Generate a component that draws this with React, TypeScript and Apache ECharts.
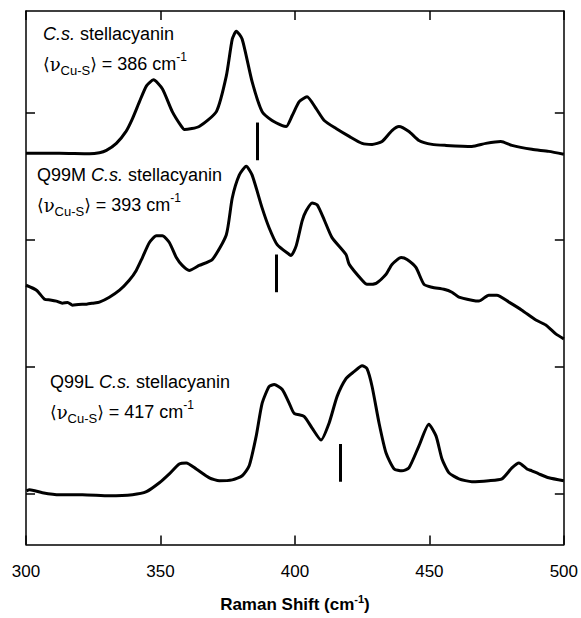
import React, { useEffect, useRef } from 'react';
import * as echarts from 'echarts';

// ---- Data ----
// C.s. stellacyanin (top trace)
const csShift = [300, 312.4, 323.6, 327.3, 329.9, 333.6, 337.2, 339.6, 342.2, 344.8, 347.4, 350.7, 354.4, 357.8, 358.9, 364.4, 370.8, 374.5, 376.7, 378.2, 380.4, 384.1, 387.8, 391.5, 395.3, 396.8, 399.0, 401.6, 404.5, 407.9, 410.9, 415.3, 420.2, 425.0, 428.7, 432.4, 436.1, 438.7, 442.4, 446.1, 451.0, 456.2, 465.8, 471.0, 476.6, 480.7, 488.1, 494.4, 500];
const csIntensity = [2.68, 2.68, 2.676, 2.684, 2.703, 2.758, 2.852, 2.953, 3.086, 3.211, 3.258, 3.188, 3.008, 2.891, 2.867, 2.891, 3.008, 3.289, 3.578, 3.641, 3.578, 3.242, 3.008, 2.938, 2.898, 2.891, 2.977, 3.086, 3.125, 3.031, 2.938, 2.875, 2.813, 2.758, 2.75, 2.773, 2.859, 2.891, 2.852, 2.781, 2.75, 2.742, 2.734, 2.758, 2.773, 2.742, 2.711, 2.695, 2.672];

// Q99M C.s. stellacyanin (middle trace)
const q99mShift = [300, 303.9, 306.9, 309.0, 311.3, 313.5, 315.5, 317.3, 319.5, 322.5, 325.0, 327.3, 331.0, 334.8, 338.4, 341.0, 343.3, 345.9, 348.5, 350.7, 353.3, 355.9, 358.1, 360.7, 364.4, 369.3, 374.5, 376.7, 379.3, 381.9, 384.1, 387.8, 390.4, 393.4, 397.9, 398.6, 400.5, 402.7, 404.2, 406.4, 408.3, 410.9, 413.8, 419.0, 420.2, 425.0, 426.8, 430.2, 433.9, 436.1, 439.5, 441.7, 445.0, 448.0, 451.0, 455.4, 458.4, 461.0, 465.8, 468.4, 472.1, 475.1, 479.6, 484.4, 489.6, 493.3, 497.0, 500];
const q99mIntensity = [1.641, 1.602, 1.531, 1.525, 1.516, 1.50, 1.505, 1.484, 1.49, 1.492, 1.50, 1.508, 1.547, 1.602, 1.68, 1.758, 1.859, 1.977, 2.031, 2.031, 1.977, 1.859, 1.797, 1.758, 1.797, 1.844, 2.039, 2.328, 2.508, 2.578, 2.508, 2.25, 2.094, 1.961, 1.883, 1.875, 1.953, 2.148, 2.227, 2.289, 2.273, 2.156, 2.016, 1.883, 1.805, 1.68, 1.648, 1.656, 1.727, 1.805, 1.859, 1.844, 1.781, 1.648, 1.625, 1.609, 1.586, 1.547, 1.523, 1.516, 1.563, 1.563, 1.508, 1.445, 1.367, 1.328, 1.258, 1.219];

// Q99L C.s. stellacyanin (bottom trace)
const q99lShift = [300.2, 301.3, 306.1, 312.4, 321.0, 331.0, 339.6, 344.8, 349.6, 353.3, 357.0, 359.6, 363.3, 368.2, 371.9, 376.7, 380.4, 383.0, 385.6, 387.8, 390.4, 392.3, 395.3, 397.9, 399.7, 403.4, 406.4, 409.7, 412.7, 415.7, 419.0, 422.0, 425.0, 426.8, 428.7, 431.3, 433.9, 436.9, 439.8, 442.4, 446.1, 449.8, 452.5, 454.7, 457.3, 461.0, 465.8, 472.1, 477.0, 480.7, 483.3, 486.3, 488.1, 490.7, 494.4, 500];
const q99lIntensity = [0.023, 0.031, 0.008, -0.008, -0.008, -0.016, -0.008, 0.016, 0.086, 0.156, 0.234, 0.242, 0.195, 0.125, 0.102, 0.109, 0.141, 0.219, 0.453, 0.711, 0.844, 0.859, 0.82, 0.711, 0.633, 0.609, 0.516, 0.422, 0.555, 0.766, 0.906, 0.961, 1.008, 0.984, 0.844, 0.555, 0.32, 0.195, 0.18, 0.203, 0.375, 0.547, 0.453, 0.273, 0.164, 0.117, 0.094, 0.102, 0.117, 0.203, 0.242, 0.195, 0.18, 0.156, 0.125, 0.102];

// Average Cu–S frequencies (vertical markers) and their vertical extents
const meanFrequency = [386, 393, 417];
const markerTop = [2.922, 1.883, 0.391];
const markerBottom = [2.625, 1.586, 0.094];

const sampleNames = ['', 'Q99M ', 'Q99L '];
const xTicks = [300, 350, 400, 450, 500];
const yTickValues = [0, 1, 2, 3];

const FONT = "'Liberation Sans', Arial, Helvetica, sans-serif";
const SERIF = "'DejaVu Serif', 'Liberation Serif', serif";

const labelRich = {
  r: { fontFamily: FONT, fontSize: 18, color: '#000', lineHeight: 26 },
  i: { fontFamily: FONT, fontSize: 18, fontStyle: 'italic', color: '#000', lineHeight: 26 },
  br: { fontFamily: "'DejaVu Sans', sans-serif", fontSize: 17, color: '#000', lineHeight: 26 },
  nu: { fontFamily: SERIF, fontSize: 18, color: '#000', lineHeight: 26 },
  sub: { fontFamily: FONT, fontSize: 13, color: '#000', lineHeight: 13, verticalAlign: 'bottom' },
  sup: { fontFamily: FONT, fontSize: 12, color: '#000', lineHeight: 12, verticalAlign: 'top' },
};

function pairs(xs: number[], ys: number[]) {
  return xs.map((x, i) => [x, ys[i]]);
}

export default function App() {
  const ref = useRef<HTMLDivElement>(null);

  useEffect(() => {
    if (!ref.current) return;
    const chart = echarts.init(ref.current, undefined, { renderer: 'svg' });

    const traces = [
      pairs(csShift, csIntensity),
      pairs(q99mShift, q99mIntensity),
      pairs(q99lShift, q99lIntensity),
    ];

    const labelX = [43, 37, 50];
    const labelY = [34, 175, 382];

    const graphic: any[] = [];
    sampleNames.forEach((nm, k) => {
      graphic.push({
        type: 'text',
        x: labelX[k],
        y: labelY[k],
        style: {
          text: (nm ? `{r|${nm}}` : '') + '{i|C.s.}{r| stellacyanin}',
          rich: labelRich,
          verticalAlign: 'middle',
          align: 'left',
        },
      });
      graphic.push({
        type: 'text',
        x: labelX[k],
        y: labelY[k] + 30,
        style: {
          text: `{br|⟨}{nu|ν}{sub|Cu-S}{br|⟩}{r| = ${meanFrequency[k]} cm}{sup|-1}`,
          rich: labelRich,
          verticalAlign: 'middle',
          align: 'left',
        },
      });
    });

    const axisLine = { show: true, onZero: false, lineStyle: { color: '#000', width: 1.5 } };
    const tickStyle = { color: '#000', width: 1.5 };

    chart.setOption({
      animation: false,
      grid: { left: 26, right: 16, top: 11, bottom: 69, containLabel: false },
      xAxis: [
        {
          type: 'value', min: 300, max: 500, interval: 50, position: 'bottom',
          axisLine,
          axisTick: { inside: true, length: 9, lineStyle: tickStyle },
          axisLabel: { fontFamily: FONT, fontSize: 17, color: '#000', margin: 18,
            formatter: (v: number) => (xTicks.includes(v) ? String(v) : '') },
          splitLine: { show: false },
          name: '{t|Raman Shift (cm}{s|-1}{t|)}',
          nameLocation: 'middle',
          nameGap: 49,
          nameTextStyle: {
            rich: {
              t: { fontFamily: FONT, fontSize: 17, fontWeight: 'bold', color: '#000', lineHeight: 22 },
              s: { fontFamily: FONT, fontSize: 11, fontWeight: 'bold', color: '#000', lineHeight: 11, verticalAlign: 'top' },
            },
          },
        },
        {
          type: 'value', min: 300, max: 500, interval: 50, position: 'top',
          axisLine,
          axisTick: { inside: true, length: 9, lineStyle: tickStyle },
          axisLabel: { show: false },
          splitLine: { show: false },
        },
      ],
      yAxis: [
        {
          type: 'value', min: -0.4, max: 3.8, position: 'left',
          axisLine,
          axisTick: { show: true, inside: true, length: 9, lineStyle: tickStyle, customValues: yTickValues },
          axisLabel: { show: false },
          splitLine: { show: false },
        },
        {
          type: 'value', min: -0.4, max: 3.8, position: 'right',
          axisLine,
          axisTick: { show: true, inside: true, length: 9, lineStyle: tickStyle, customValues: yTickValues },
          axisLabel: { show: false },
          splitLine: { show: false },
        },
      ],
      series: traces.map((data, k) => ({
        type: 'line',
        xAxisIndex: 0,
        yAxisIndex: 0,
        data,
        showSymbol: false,
        smooth: 0.2,
        lineStyle: { color: '#000', width: 3 },
        silent: true,
        markLine: {
          silent: true,
          symbol: 'none',
          label: { show: false },
          lineStyle: { color: '#000', width: 3, type: 'solid' },
          data: [[
            { coord: [meanFrequency[k], markerTop[k]] },
            { coord: [meanFrequency[k], markerBottom[k]] },
          ]],
        },
      })),
      graphic,
    });

    return () => chart.dispose();
  }, []);

  return (
    <div
      ref={ref}
      style={{ position: 'fixed', left: 0, top: 0, width: 581, height: 618, background: '#fff' }}
    />
  );
}
